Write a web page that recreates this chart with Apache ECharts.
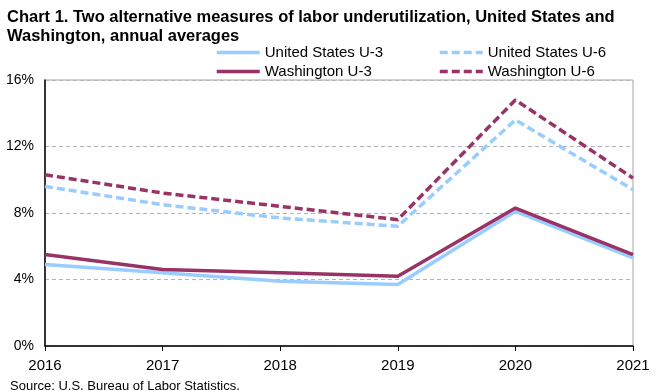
<!DOCTYPE html>
<html><head><meta charset="utf-8">
<script src="https://cdn.jsdelivr.net/npm/echarts@6/dist/echarts.min.js"></script>
<style>html,body{margin:0;padding:0;background:#fff}#c{width:660px;height:391px}</style>
</head><body><div id="c"></div>
<script>
const years = ['2016','2017','2018','2019','2020','2021'];
const usU3 = [4.9, 4.4, 3.9, 3.7, 8.1, 5.3];
const usU6 = [9.6, 8.5, 7.7, 7.2, 13.6, 9.4];
const waU3 = [5.5, 4.6, 4.4, 4.2, 8.3, 5.5];
const waU6 = [10.3, 9.2, 8.4, 7.6, 14.8, 10.1];
const yTicks = [0, 4, 8, 12, 16];

const blue = '#99CCFF', maroon = '#993366';
const F = 'Arial, "Liberation Sans", sans-serif';
const chart = echarts.init(document.getElementById('c'));
function lg(name, left, top){
  return {data:[name], left:left, top:top, itemWidth:43, itemHeight:10, itemGap:0,
    itemStyle:{opacity:0}, lineStyle:{width:3.5},
    textStyle:{fontFamily:F, fontSize:15, color:'#000'}, padding:0};
}
function s(name, data, color, dashed){
  return {name:name, type:'line', data:data, showSymbol:false, symbol:'none', smooth:false,
    lineStyle:{color:color, width:3.5, type: dashed ? [8,4] : 'solid'}, itemStyle:{color:color}, z: color===maroon?3:2};
}
chart.setOption({
  animation:false,
  title:[{text:'Chart 1. Two alternative measures of labor underutilization, United States and\nWashington, annual averages',
    left:2, top:3, textStyle:{fontFamily:F, fontSize:16.5, fontWeight:'bold', color:'#000', lineHeight:19}},
    {text:'Source: U.S. Bureau of Labor Statistics.', left:5, top:375,
    textStyle:{fontFamily:F, fontSize:13, fontWeight:'normal', color:'#000'}}],
  legend:[lg('United States U-3',215,45), lg('United States U-6',438,45), lg('Washington U-3',215,64), lg('Washington U-6',438,64)],
  grid:{left:45, right:27, top:80, bottom:45, show:true, borderColor:'#a6a6a6', borderWidth:1, containLabel:false},
  xAxis:{type:'category', data:years, boundaryGap:false,
    axisLine:{lineStyle:{color:'#000', width:1.5}}, axisTick:{show:true, length:5, lineStyle:{color:'#000'}},
    axisLabel:{fontFamily:F, fontSize:15, color:'#000', margin:12}, splitLine:{show:false}},
  yAxis:{type:'value', min:yTicks[0], max:yTicks[yTicks.length-1], interval:4,
    axisLine:{show:true, lineStyle:{color:'#000', width:1.5}}, axisTick:{show:false},
    axisLabel:{fontFamily:F, fontSize:14, color:'#000', formatter:'{value}%', margin:11},
    splitLine:{lineStyle:{color:'#b4b4b4', type:[4,3], width:1}}},
  series:[s('United States U-3',usU3,blue,false), s('United States U-6',usU6,blue,true),
          s('Washington U-3',waU3,maroon,false), s('Washington U-6',waU6,maroon,true)]
});
</script></body></html>
